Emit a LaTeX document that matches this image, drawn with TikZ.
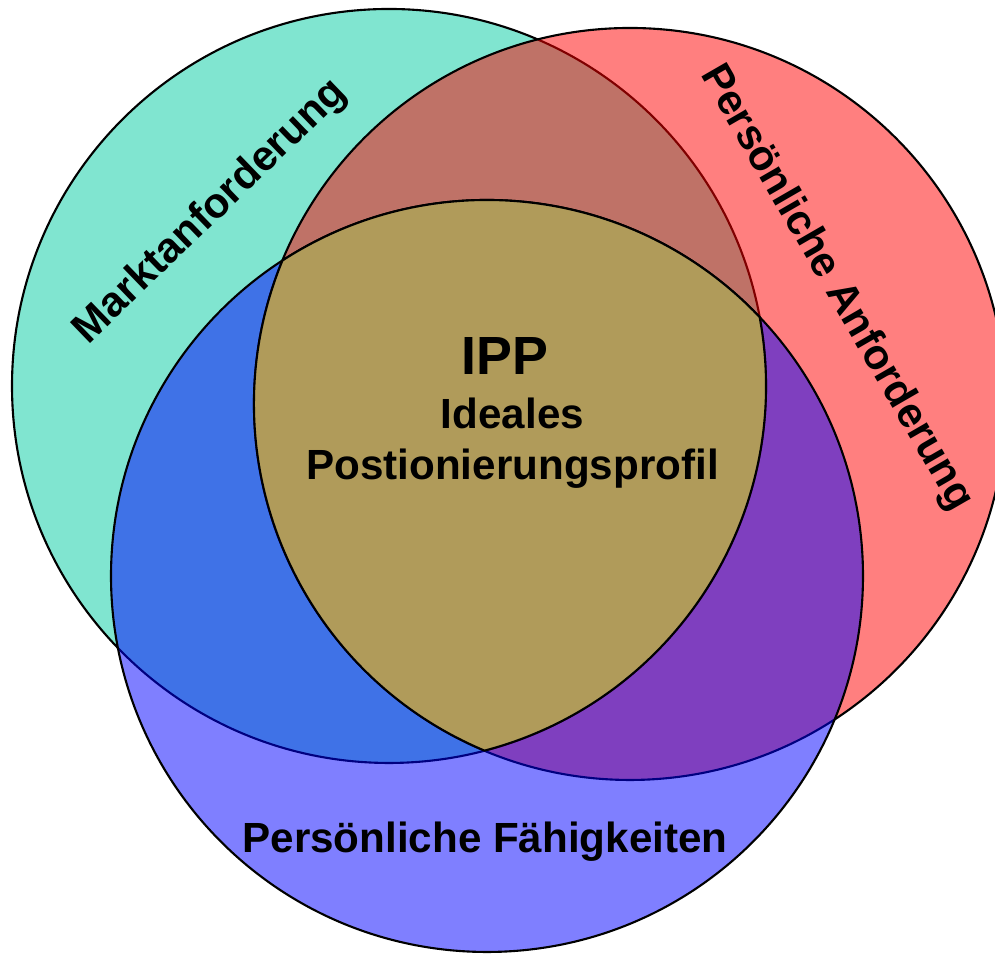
\documentclass[tikz,border=0pt]{standalone}
\usepackage{fontspec}
\setmainfont{Liberation Sans}
\usepackage{xcolor}
\usepackage{tikz}
\usetikzlibrary{calc}

\definecolor{marktgreen}{RGB}{128,229,208}
\definecolor{ippolive}{RGB}{176,155,90}

\begin{document}
\begin{tikzpicture}[line width=0.6pt,
  areatext/.style={font=\bfseries\fontsize{12}{14.5}\selectfont}]
% Frame
\clip (0,0) rectangle (9.95,9.54);
% Centres
\coordinate (G) at (3.89,5.68);
\coordinate (R) at (6.30,5.50);
\coordinate (B) at (4.87,3.78);
% Circles
\draw[fill=marktgreen] (G) circle (3.77);
\draw[fill=red, fill opacity=0.5] (R) circle (3.76);
\draw[fill=blue, fill opacity=0.5] (B) circle (3.76);
% Common area
\draw[fill=ippolive] ($(B)+(122.96:3.76)$)
  arc[start angle=122.96, end angle=43.52, radius=3.76]
  arc[start angle=10.53, end angle=-75.32, radius=3.77]
  arc[start angle=247.24, end angle=157.57, radius=3.76] -- cycle;
% Labels
\node[areatext, rotate=44] (markt) at (2.11,7.42) {Marktanforderung};
\node[areatext, rotate=-60] (anford) at (8.36,6.66) {Persönliche Anforderung};
\node[areatext, anchor=base] (faehig) at (4.85,1.01) {Persönliche Fähigkeiten};
\node[font=\bfseries\fontsize{15.3}{18}\selectfont, anchor=base] (ipp) at (5.05,5.79) {IPP};
\node[areatext, align=center] (ippname) at (5.125,5.11) {Ideales\\Postionierungsprofil};
\end{tikzpicture}
\end{document}
